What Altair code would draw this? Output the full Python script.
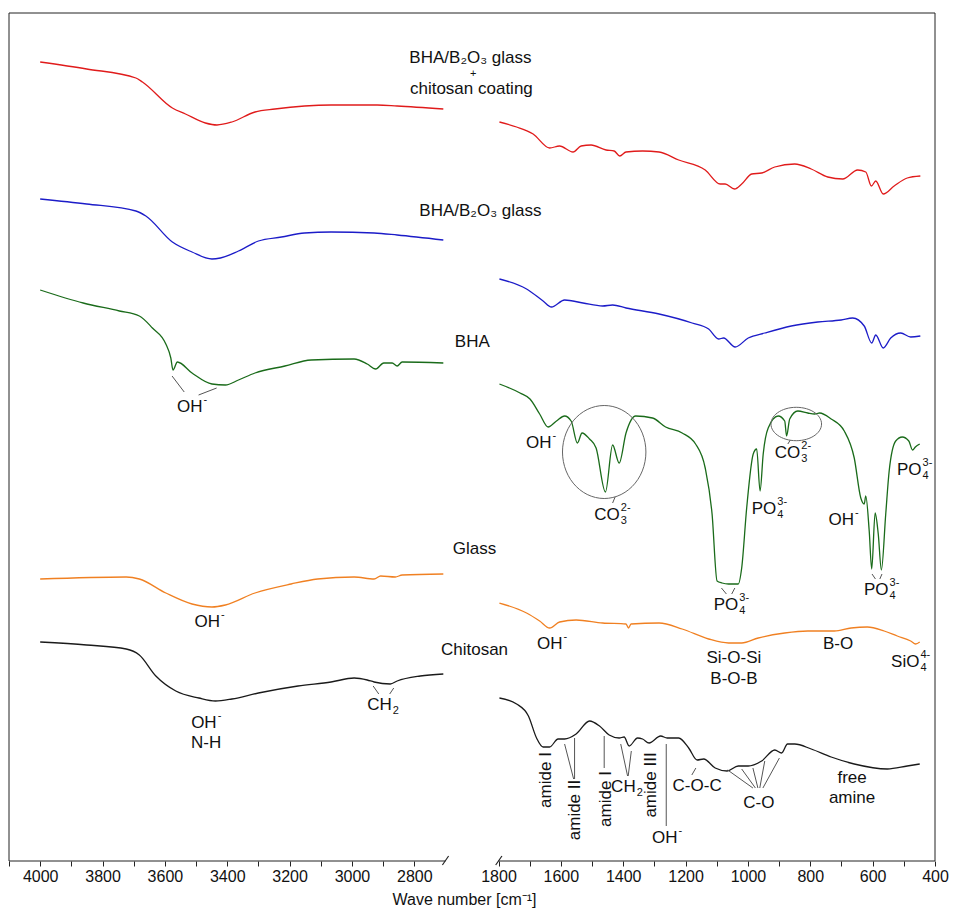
import math
import altair as alt
import pandas as pd

FONT = "Liberation Sans, Arial, Helvetica, sans-serif"

series_names = ["BHA/B2O3 glass + chitosan coating", "BHA/B2O3 glass", "BHA", "Glass", "Chitosan"]
series_colors = ["#e01b1b", "#1c1cc8", "#1a6b1a", "#f08022", "#1a1a1a"]

# ---------- high wavenumber region (4000-2700 cm-1) ----------
hi_wn_red = [4000, 3851, 3693, 3672, 3576, 3534, 3470, 3433, 3385, 3311, 3247, 3152, 3067, 2919, 2855, 2707]
hi_val_red = [799, 792, 783, 779, 753, 747, 738, 736, 739, 749, 752, 755, 756, 756, 755, 752]

hi_wn_blue = [4000, 3851, 3693, 3661, 3576, 3513, 3449, 3422, 3364, 3300, 3226, 3152, 3067, 2929, 2855, 2707]
hi_val_blue = [662, 657, 650, 645, 619, 609, 602, 603, 610, 620, 624, 628, 629, 628, 626, 621]

hi_wn_green = [4000, 3862, 3746, 3682, 3640, 3597, 3581, 3574, 3560, 3513, 3449, 3406, 3364, 3311, 3215,
               3131, 2993, 2951, 2924, 2898, 2871, 2855, 2839, 2707]
hi_val_green = [571, 558, 550, 545, 533, 517, 503, 491, 499, 488, 477, 476, 481, 488, 495,
                501, 502, 497, 492, 498, 498, 495, 499, 498]

hi_wn_orange = [4000, 3724, 3682, 3597, 3513, 3449, 3406, 3311, 3195, 3110, 2993, 2929, 2908, 2861, 2839, 2707]
hi_val_orange = [282, 284, 282, 268, 257, 254, 256, 268, 277, 282, 284, 282, 285, 284, 286, 287]

hi_wn_black = [4000, 3851, 3724, 3682, 3629, 3565, 3491, 3438, 3385, 3300, 3173, 3067, 2993, 2951, 2929,
               2877, 2855, 2781, 2707]
hi_val_black = [219, 216, 212, 206, 185, 170, 163, 160, 162, 168, 175, 179, 183, 181, 179,
                177, 180, 185, 187]

# ---------- low wavenumber region (1800-400 cm-1) ----------
lo_wn_red = [1797, 1742, 1689, 1636, 1604, 1561, 1535, 1503, 1455, 1429, 1411, 1391, 1338, 1285, 1222,
             1137, 1089, 1073, 1043, 1020, 988, 956, 914, 850, 797, 744, 696, 648, 622, 604,
             590, 566, 531, 489, 447]
lo_val_red = [739, 734, 727, 713, 715, 709, 715, 716, 711, 710, 705, 709, 710, 709, 701,
              691, 677, 677, 672, 677, 687, 688, 694, 697, 692, 684, 682, 691, 689, 675,
              680, 667, 675, 683, 685]

lo_wn_blue = [1797, 1710, 1657, 1630, 1588, 1529, 1466, 1434, 1391, 1285, 1179, 1126, 1094, 1078, 1041,
              999, 946, 861, 776, 701, 664, 627, 603, 590, 566, 542, 510, 478, 447]
lo_val_blue = [582, 572, 560, 554, 561, 558, 555, 556, 553, 547, 538, 532, 522, 523, 514,
               523, 528, 535, 539, 541, 543, 535, 518, 526, 513, 523, 528, 524, 525]

lo_wn_green = [1797, 1731, 1699, 1668, 1641, 1614, 1588, 1567, 1547, 1532, 1508, 1487, 1457, 1434, 1413,
               1391, 1360, 1306, 1264, 1211, 1168, 1137, 1115, 1099, 1083, 1062, 1031, 1020, 1004, 983,
               972, 961, 951, 935, 903, 882, 876, 866, 840, 808, 786, 770, 733, 691, 659,
               638, 627, 622, 611, 603, 592, 582, 572, 558, 547, 526, 505, 484, 472, 463, 449]
lo_val_green = [477, 468, 462, 447, 434, 440, 445, 440, 418, 428, 422, 413, 369, 416, 398,
                428, 445, 443, 434, 428, 417, 393, 347, 280, 278, 277, 277, 293, 353, 407,
                412, 370, 407, 433, 445, 440, 425, 442, 450, 448, 447, 448, 442, 430, 403,
                363, 357, 365, 330, 292, 348, 327, 291, 347, 390, 420, 424, 420, 411, 414, 417]

lo_wn_orange = [1797, 1710, 1668, 1636, 1604, 1551, 1466, 1391, 1383, 1375, 1285, 1211, 1126, 1062, 1020,
                967, 882, 808, 723, 669, 617, 563, 521, 478, 462, 449]
lo_val_orange = [258, 248, 240, 233, 239, 241, 238, 237, 233, 237, 238, 232, 222, 218, 218,
                 223, 228, 230, 230, 233, 234, 230, 225, 220, 217, 219]

lo_wn_black = [1797, 1742, 1704, 1678, 1657, 1636, 1609, 1588, 1551, 1508, 1476, 1445, 1413, 1397, 1381,
               1354, 1338, 1317, 1280, 1259, 1222, 1190, 1163, 1142, 1105, 1067, 1031, 999, 956, 914,
               892, 873, 850, 797, 733, 659, 553, 489, 449]
lo_val_black = [163, 157, 145, 123, 114, 114, 122, 122, 127, 140, 135, 126, 123, 124, 115,
                123, 122, 118, 125, 123, 123, 113, 101, 102, 93, 90, 95, 95, 100, 111,
                108, 117, 117, 112, 104, 97, 92, 95, 97]

# ---------- axis ticks (cm-1) ----------
hi_ticks = list(range(4100, 2799, -100))
lo_ticks = list(range(1800, 399, -100))

# ---------- annotations (wavenumber, value) ----------
labels = [("BHA/B\u2082O\u2083 glass", 2620, 803), ("chitosan coating", 2617, 772),
          ("BHA/B\u2082O\u2083 glass", 2588, 650), ("BHA", 2614, 519), ("Glass", 2607, 312),
          ("Chitosan", 2607, 211), ("N-H", 3468, 118),
          ("Si-O-Si", 1045, 203), ("B-O-B", 1045, 182), ("B-O", 711, 217), ("C-O-C", 1163, 75),
          ("C-O", 965, 58), ("free", 666, 83), ("amine", 666, 63)]
plus_labels = [("+", 2611, 787)]
vertical_labels = [("amide I", 1649, 81), ("amide II", 1554, 51), ("amide I", 1455, 62), ("amide III", 1310, 76)]
ions = [("OH", "-", "", 3479, 454), ("OH", "-", "", 3423, 239), ("OH", "-", "", 3434, 138),
        ("CH", "", "2", 2872, 156),
        ("OH", "-", "", 1630, 418), ("CO", "2-", "3", 1411, 346), ("PO", "3-", "4", 909, 352),
        ("CO", "2-", "3", 832, 408), ("PO", "3-", "4", 1031, 256), ("OH", "-", "", 660, 341),
        ("PO", "3-", "4", 549, 271), ("PO", "3-", "4", 443, 391), ("OH", "-", "", 1595, 217),
        ("SiO", "4-", "4", 450, 199), ("OH", "-", "", 1226, 23), ("CH", "", "2", 1360, 74)]
pointer_lines = [(3577, 485, 3538, 469), (3492, 466, 3434, 473), (2932, 175, 2914, 167), (2866, 173, 2879, 167),
                 (1426, 364, 1434, 358), (872, 417, 864, 421),
                 (1085, 273, 1069, 267), (1042, 273, 1052, 267),
                 (602, 287, 591, 282), (570, 287, 577, 282),
                 (1588, 117, 1559, 82), (1556, 123, 1556, 82),
                 (1461, 125, 1461, 93),
                 (1408, 117, 1386, 85), (1374, 110, 1384, 85),
                 (1262, 117, 1262, 35),
                 (1167, 93, 1180, 86),
                 (1065, 91, 984, 73), (1020, 92, 976, 73), (984, 93, 968, 73), (946, 100, 962, 73),
                 (899, 103, 952, 73)]
# ellipses round the carbonate bands: (wn, value, x radius ratio, y radius ratio, symbol size)
ellipses = [(1461, 409, 0.897, 1.0, 8649), (845, 437, 1.0, 0.66, 2560)]

# frame: top line, bottom axis lines, side lines, axis-break marks
frame_lines = [(4100, 848, 400, 848), (4100, 0, 2700, 0), (1800, 0, 400, 0),
               (4100, 0, 4100, 848), (400, 0, 400, 848)]
break_marks = [(2710, -4, 2690, 5), (1809, -4, 1789, 5)]

# ---------- broken axis geometry ----------
PANEL_W = 436.5
GAP_PX = 53
PX_PER_UNIT = PANEL_W / 1400
GAP = GAP_PX / PX_PER_UNIT      # blank stretch between the two ranges, in axis units
RIGHT0 = 1400 + GAP            # axis position of 1800 cm-1
TOTAL = RIGHT0 + 1400
POS = f"datum.wn >= 2000 ? 4100 - datum.wn : {RIGHT0} + 1800 - datum.wn"
POS2 = f"datum.wn2 >= 2000 ? 4100 - datum.wn2 : {RIGHT0} + 1800 - datum.wn2"
tick_pos = [4100 - w for w in hi_ticks] + [RIGHT0 + 1800 - w for w in lo_ticks]
WN_EXPR = f"(datum.value < 1484 ? 4100 - datum.value : {RIGHT0 + 1800} - datum.value)"


def seg_df(segs):
    return pd.DataFrame(segs, columns=["wn", "val", "wn2", "val2"])


def ellipse_path(rx, ry, n=60):
    pts = []
    for k in range(n):
        a = 2 * math.pi * k / n
        pts.append(f"{rx * math.cos(a):.4f},{ry * math.sin(a):.4f}")
    return "M" + " L".join(pts) + " Z"


# each region is its own line so nothing is drawn across the break
rows = []
for name, color_i, wn, val in [
        ("red_hi", 0, hi_wn_red, hi_val_red), ("red_lo", 0, lo_wn_red, lo_val_red),
        ("blue_hi", 1, hi_wn_blue, hi_val_blue), ("blue_lo", 1, lo_wn_blue, lo_val_blue),
        ("green_hi", 2, hi_wn_green, hi_val_green), ("green_lo", 2, lo_wn_green, lo_val_green),
        ("orange_hi", 3, hi_wn_orange, hi_val_orange), ("orange_lo", 3, lo_wn_orange, lo_val_orange),
        ("black_hi", 4, hi_wn_black, hi_val_black), ("black_lo", 4, lo_wn_black, lo_val_black)]:
    for w, v in zip(wn, val):
        rows.append({"wn": w, "val": v, "series": series_names[color_i], "part": name})
df = pd.DataFrame(rows)

X = alt.X("pos:Q", scale=alt.Scale(domain=[0, TOTAL], nice=False, zero=False),
          axis=alt.Axis(values=tick_pos, domain=False, grid=False,
                        labelExpr=f"round({WN_EXPR}) % 200 === 0 ? format(round({WN_EXPR}), 'd') : ''",
                        labelFont=FONT, labelFontSize=16, labelColor="#111", labelPadding=2,
                        labelFlush=False, labelOverlap=False, tickSize=5, tickColor="#222",
                        title="Wave number [cm\u207b\u00b9]", titleFont=FONT, titleFontSize=16,
                        titleFontWeight="normal", titleColor="#111", titleAnchor="start",
                        titleAlign="center", titleBaseline="middle", titleX=455, titleY=38))
Y = alt.Y("val:Q", scale=alt.Scale(domain=[0, 848], nice=False, zero=False), axis=None)
color = alt.Color("series:N", scale=alt.Scale(domain=series_names, range=series_colors), legend=None)

lines = alt.Chart(df).transform_calculate(pos=POS).mark_line(
    strokeWidth=1.3, interpolate="monotone").encode(x=X, y=Y, color=color, detail="part:N")

frame = alt.Chart(seg_df(frame_lines)).transform_calculate(pos=POS, pos2=POS2).mark_rule(
    color="#222", strokeWidth=1).encode(x=X, x2="pos2:Q", y=Y, y2="val2:Q")
breaks = alt.Chart(seg_df(break_marks)).transform_calculate(pos=POS, pos2=POS2).mark_rule(
    color="#222", strokeWidth=1.2).encode(x=X, x2="pos2:Q", y=Y, y2="val2:Q")
pointers = alt.Chart(seg_df(pointer_lines)).transform_calculate(pos=POS, pos2=POS2).mark_rule(
    color="#555", strokeWidth=1).encode(x=X, x2="pos2:Q", y=Y, y2="val2:Q")

text_df = pd.DataFrame(labels, columns=["text", "wn", "val"])
texts = alt.Chart(text_df).transform_calculate(pos=POS).mark_text(
    font=FONT, fontSize=17, color="#111", baseline="middle", align="center").encode(x=X, y=Y, text="text:N")
plus_df = pd.DataFrame(plus_labels, columns=["text", "wn", "val"])
plus = alt.Chart(plus_df).transform_calculate(pos=POS).mark_text(
    font=FONT, fontSize=11, color="#111", baseline="middle", align="center").encode(x=X, y=Y, text="text:N")
vt_df = pd.DataFrame(vertical_labels, columns=["text", "wn", "val"])
vtexts = alt.Chart(vt_df).transform_calculate(pos=POS).mark_text(
    font=FONT, fontSize=17, color="#111", baseline="middle", align="center", angle=270).encode(
    x=X, y=Y, text="text:N")

ion_df = pd.DataFrame(ions, columns=["main", "sup", "sub", "wn", "val"])
ion_main = alt.Chart(ion_df).transform_calculate(pos=POS).mark_text(
    font=FONT, fontSize=17, color="#111", baseline="middle", align="right").encode(x=X, y=Y, text="main:N")
ion_sup = alt.Chart(ion_df).transform_calculate(pos=POS).mark_text(
    font=FONT, fontSize=11, color="#111", baseline="middle", align="left", dx=1, dy=-7).encode(
    x=X, y=Y, text="sup:N")
ion_sub = alt.Chart(ion_df).transform_calculate(pos=POS).mark_text(
    font=FONT, fontSize=11, color="#111", baseline="middle", align="left", dx=1, dy=6).encode(
    x=X, y=Y, text="sub:N")

ell_layers = []
for (w, v, rx, ry, size) in ellipses:
    edf = pd.DataFrame([{"wn": w, "val": v}])
    ell_layers.append(alt.Chart(edf).transform_calculate(pos=POS).mark_point(
        shape=ellipse_path(rx, ry), size=size, filled=False, stroke="#666", strokeWidth=1,
        opacity=1).encode(x=X, y=Y))

chart = alt.layer(lines, frame, breaks, pointers, texts, plus, vtexts, ion_main, ion_sup, ion_sub,
                  *ell_layers).properties(
    width=PANEL_W * 2 + GAP_PX, height=848,
    padding={"left": 0, "top": 4, "right": 0, "bottom": 3},
).configure_view(stroke=None)

chart.save("out.html", embed_options={"renderer": "svg", "actions": False})
